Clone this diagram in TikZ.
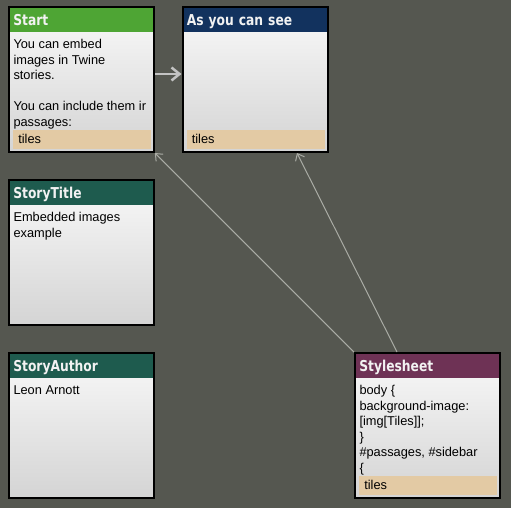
\documentclass[tikz,border=0pt]{standalone}
\usepackage{fontspec}
\setmainfont{Liberation Sans}
\newfontfamily\hdrfont{DejaVu Sans}[FakeStretch=0.82]
\usetikzlibrary{arrows.meta,calc}
\definecolor{bgc}{RGB}{85,87,80}
\definecolor{hgreen}{RGB}{78,165,52}
\definecolor{hnavy}{RGB}{18,50,94}
\definecolor{hteal}{RGB}{30,91,78}
\definecolor{hplum}{RGB}{110,50,85}
\definecolor{tagc}{RGB}{227,202,164}
\definecolor{bodytop}{RGB}{249,249,249}
\definecolor{bodybot}{RGB}{212,212,212}
\definecolor{linkthick}{RGB}{195,195,195}
\definecolor{linkthin}{RGB}{170,172,165}
\definecolor{hdrtext}{RGB}{242,242,242}
\begin{document}
\begin{tikzpicture}[x=1pt,y=-1pt,
  passage/.style={draw=black, line width=2pt, minimum width=145pt, minimum height=145pt,
    inner sep=0pt, top color=bodytop, bottom color=bodybot},
  hdr/.style={anchor=north, inner ysep=0pt, inner xsep=3.3pt, outer sep=0pt,
    text width=136.4pt, align=left, text height=17.3pt, text depth=6.7pt,
    text=hdrtext, font=\hdrfont\bfseries\fontsize{15}{17}\selectfont},
  bodytext/.style={anchor=north west, inner sep=0pt, align=left,
    font=\fontsize{12.8}{15.6}\selectfont},
  tagbar/.style={anchor=north west, fill=tagc, inner ysep=0pt, inner xsep=5.3pt, outer sep=0pt,
    text width=127.4pt, align=left, text height=13.3pt, text depth=5.7pt,
    font=\fontsize{12.8}{15.6}\selectfont},
  thinlink/.style={draw=linkthin, line width=1pt, -{Straight Barb[length=6pt,width=10pt]}},
  thicklink/.style={draw=linkthick, line width=2.5pt, -{Straight Barb[length=8pt,width=13pt]}}
]
\useasboundingbox (0,0) rectangle (511,508);
\fill[bgc] (0,0) rectangle (511,508);

% passages
\node[passage] (start) at (81.5,79.5) {};
\node[passage] (asy) at (255,79.5) {};
\node[passage] (stitle) at (81.5,252.5) {};
\node[passage] (sauth) at (81.5,425.5) {};
\node[passage] (sty) at (427.5,425.5) {};

% headers
\node[hdr, fill=hgreen] (starthdr) at ($(start.north)+(0,2)$) {Start};
\node[hdr, fill=hnavy] (asyhdr) at ($(asy.north)+(0,2)$) {As you can see};
\node[hdr, fill=hteal] (stitlehdr) at ($(stitle.north)+(0,2)$) {StoryTitle};
\node[hdr, fill=hteal] (sauthhdr) at ($(sauth.north)+(0,2)$) {StoryAuthor};
\node[hdr, fill=hplum] (styhdr) at ($(sty.north)+(0,2)$) {Stylesheet};

% bodies
\node[bodytext] (starttxt) at ($(start.north west)+(5.3,30.3)$)
  {\rule{0pt}{12pt}You can embed\\images in Twine\\stories.\\[15.6pt]You can include them ir\\passages:};
\node[bodytext] (stitletxt) at ($(stitle.north west)+(5.3,30.3)$)
  {\rule{0pt}{12pt}Embedded images\\example};
\node[bodytext] (sauthtxt) at ($(sauth.north west)+(5.3,30.3)$)
  {\rule{0pt}{12pt}Leon Arnott};
\node[bodytext] (stytxt) at ($(sty.north west)+(5.3,30.3)$)
  {\rule{0pt}{12pt}body \{\\background-image:\\{}[img[Tiles]];\\\}\\\#passages, \#sidebar\\\{};

% tags
\node[tagbar] (starttag) at ($(start.north west)+(5,124)$) {tiles};
\node[tagbar] (asytag) at ($(asy.north west)+(5,124)$) {tiles};
\node[tagbar] (stytag) at ($(sty.north west)+(5,124)$) {tiles};

% links
\draw[thicklink] ([yshift=5.5pt]start.east) -- ([yshift=5.5pt]asy.west);
\draw[thinlink] (sty) -- (start);
\draw[thinlink] ([xshift=-30.5pt]sty.north) -- ([xshift=42pt]asy.south);
\end{tikzpicture}
\end{document}
